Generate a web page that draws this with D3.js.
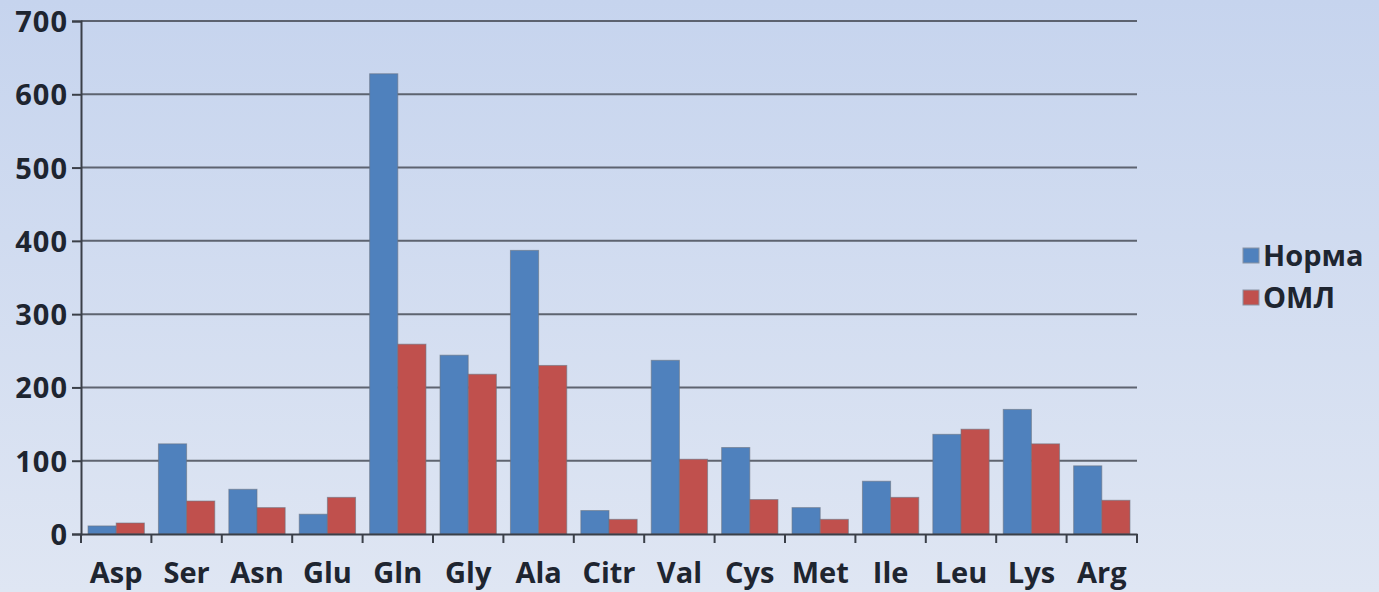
<!DOCTYPE html>
<html lang="ru">
<head>
<meta charset="UTF-8">
<title>Аминокислоты</title>
<script src="https://d3js.org/d3.v7.min.js"></script>
<style>
  html, body { margin: 0; padding: 0; }
  body { width: 1379px; height: 592px; overflow: hidden; }
  text { font-family: "Open Sans", Lato, sans-serif; font-weight: 700; fill: #1e2530; }
</style>
</head>
<body>
<svg id="canvas"></svg>
<script>
// data
let categories = ['Asp','Ser','Asn','Glu','Gln','Gly','Ala','Citr','Val','Cys','Met','Ile','Leu','Lys','Arg']
let normValues = [11, 123, 61, 27, 628, 244, 387, 32, 237, 118, 36, 72, 136, 170, 93]
let amlValues  = [15, 45, 36, 50, 259, 218, 230, 20, 102, 47, 20, 50, 143, 123, 46]
let seriesNames = ['Норма', 'ОМЛ']
let yTicks = [0, 100, 200, 300, 400, 500, 600, 700]

let width = 1379
let height = 592
let plotLeft = 81, plotRight = 1137, plotTop = 21, plotBottom = 534

let svg = d3.select('svg').attr('width', width).attr('height', height)

let defs = svg.append('defs')
let grad = defs.append('linearGradient').attr('id', 'bg').attr('x1', 0).attr('y1', 0).attr('x2', 0).attr('y2', 1)
grad.append('stop').attr('offset', '0%').attr('stop-color', '#c6d4ee')
grad.append('stop').attr('offset', '100%').attr('stop-color', '#dfe6f3')

svg.append('rect').attr('width', width).attr('height', height).attr('fill', 'url(#bg)')

let xScale = d3.scaleBand().domain(categories).range([plotLeft, plotRight]).paddingInner(0).paddingOuter(0)
let xSub = d3.scaleBand().domain(seriesNames).range([0, xScale.bandwidth()]).paddingInner(0).paddingOuter(0.25)
let yScale = d3.scaleLinear().domain([0, 700]).range([plotBottom, plotTop])
let color = d3.scaleOrdinal().domain(seriesNames).range(['#4f81bd', '#c0504d'])

// gridlines
svg.append('g').selectAll('line')
   .data(yTicks.filter(d => d > 0))
   .enter().append('line')
   .attr('x1', plotLeft).attr('x2', plotRight)
   .attr('y1', d => yScale(d)).attr('y2', d => yScale(d))
   .attr('stroke', '#4a4f5a').attr('stroke-width', 2).attr('opacity', 0.85)

// bars
let rows = categories.map((c, i) => ({ cat: c, values: [normValues[i], amlValues[i]] }))
let groups = svg.append('g').selectAll('g')
   .data(rows).enter().append('g')
   .attr('transform', d => 'translate(' + xScale(d.cat) + ',0)')
groups.selectAll('rect')
   .data(d => d.values.map((v, j) => ({ name: seriesNames[j], v: v })))
   .enter().append('rect')
   .attr('x', d => xSub(d.name))
   .attr('width', xSub.bandwidth())
   .attr('y', d => yScale(d.v))
   .attr('height', d => plotBottom - yScale(d.v))
   .attr('fill', d => color(d.name))
   .attr('stroke', '#6b7380').attr('stroke-width', 1).attr('stroke-opacity', 0.6)

// y axis
let yAxis = d3.axisLeft(yScale).tickValues(yTicks).tickSize(9).tickPadding(4)
let gy = svg.append('g').attr('transform', 'translate(' + plotLeft + ',0)').call(yAxis)
gy.select('.domain').attr('stroke', '#3a3f48').attr('stroke-width', 2)
gy.selectAll('.tick line').attr('stroke', '#3a3f48').attr('stroke-width', 2)
gy.selectAll('.tick text').style('font-size', '29px').style('letter-spacing', '1px')
  .attr('fill', '#1e2530').attr('dy', '0.36em')

// x axis with ticks between categories
let xAxis = d3.axisBottom(xScale).tickSize(0).tickPadding(28)
let gx = svg.append('g').attr('transform', 'translate(0,' + plotBottom + ')').call(xAxis)
gx.select('.domain').attr('stroke', '#3a3f48').attr('stroke-width', 2)
gx.selectAll('.tick text').style('font-size', '29px').attr('fill', '#1e2530').attr('dy', '0.71em')
gx.append('g').selectAll('line')
   .data(categories.concat(['end']))
   .enter().append('line')
   .attr('x1', (d, i) => plotLeft + i * xScale.bandwidth())
   .attr('x2', (d, i) => plotLeft + i * xScale.bandwidth())
   .attr('y1', 0).attr('y2', 9)
   .attr('stroke', '#3a3f48').attr('stroke-width', 2)

// legend
let legend = svg.append('g').attr('transform', 'translate(1243,255)')
let items = legend.selectAll('g').data(seriesNames).enter().append('g')
   .attr('transform', (d, i) => 'translate(0,' + i * 42 + ')')
items.append('rect').attr('x', 0).attr('y', -7).attr('width', 16).attr('height', 15)
   .attr('fill', d => color(d)).attr('stroke', '#8a93a3').attr('stroke-width', 1)
items.append('text').attr('x', 20).attr('y', 1).attr('dy', '0.36em')
   .style('font-size', '29px').text(d => d)
</script>
</body>
</html>
